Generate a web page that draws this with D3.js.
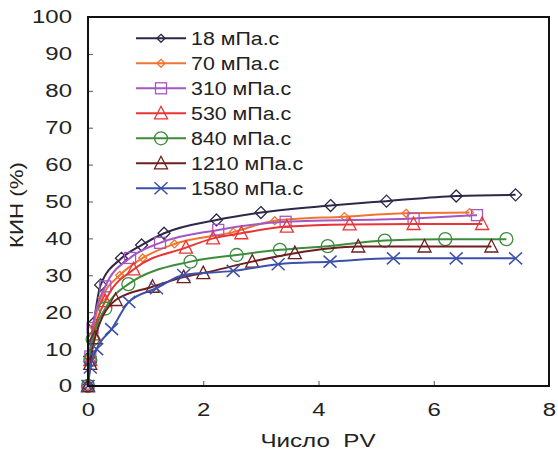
<!DOCTYPE html>
<html><head><meta charset="utf-8">
<script src="https://cdn.jsdelivr.net/npm/d3@7"></script>
<style>body{margin:0;background:#fff}svg{display:block}text{font-family:"Liberation Sans",Arial,sans-serif;fill:#222}</style>
</head><body>
<svg id="c" width="558" height="461"></svg>
<script>
const seriesNames = ["18 мПа.с","70 мПа.с","310 мПа.с","530 мПа.с","840 мПа.с","1210 мПа.с","1580 мПа.с"];
const seriesColors = ["#2e2848","#f07432","#a656c4","#ea3434","#3c8c3c","#6e1e1e","#3c50aa"];
const seriesMarkers = ["diamond","diamondSmall","square","triangle","circle","triangle","cross"];
const s18   = [[0,0],[0.03,8],[0.1,17],[0.22,27.4],[0.58,34.6],[0.93,38.2],[1.32,41.4],[2.23,45],[3.0,47],[4.21,48.9],[5.18,50.1],[6.39,51.5],[7.42,51.8]];
const s70   = [[0,0],[0.04,8],[0.1,16],[0.25,24],[0.55,30],[0.95,34.7],[1.5,38.5],[2.52,41.7],[3.24,44.8],[4.45,45.9],[5.52,46.8],[6.62,47]];
const s310  = [[0,0],[0.04,8],[0.08,15.7],[0.3,27],[0.73,34.7],[1.25,38.8],[2.26,42.3],[3.43,44.5],[5.65,45.4],[6.75,46.3]];
const s530  = [[0,0],[0.04,7],[0.1,14],[0.3,23],[0.79,31.6],[1.7,37.5],[2.17,40],[2.66,41.4],[3.45,43.2],[4.54,43.8],[5.65,43.9],[6.84,43.9]];
const s840  = [[0,0],[0.04,7],[0.08,12.7],[0.3,21],[0.7,27.6],[1.78,33.7],[2.58,35.5],[3.33,36.9],[4.16,37.9],[5.15,39.4],[6.2,39.8],[7.26,39.8]];
const s1210 = [[0,0],[0.04,6],[0.12,13],[0.48,23.3],[1.12,26.9],[1.66,29.5],[2.0,30.6],[2.85,33.7],[3.59,36],[4.69,37.8],[5.84,37.8],[7.0,37.8]];
const s1580 = [[0,0],[0.04,5],[0.15,10],[0.41,15.4],[0.71,22.8],[1.19,26.5],[1.66,30.1],[2.52,31.2],[3.3,33],[4.2,33.7],[5.3,34.6],[6.39,34.6],[7.42,34.6]];
const seriesData = [s18,s70,s310,s530,s840,s1210,s1580];
const xTicks = [0,2,4,6,8];
const yTicks = [0,10,20,30,40,50,60,70,80,90,100];

const svg = d3.select("#c");
const L=88,R=549,T=17,B=386;
const x = d3.scaleLinear().domain([0,8]).range([L,R]);
const y = d3.scaleLinear().domain([0,100]).range([B,T]);

function marker(g, type, color){
  if(type==="diamond"||type==="diamondSmall"){
    const r = type==="diamond"?6:4;
    g.append("path").attr("d",`M0,${-r}L${r},0L0,${r}L${-r},0Z`).attr("fill","none").attr("stroke",color).attr("stroke-width",1.3);
  } else if(type==="square"){
    g.append("rect").attr("x",-5.5).attr("y",-5.5).attr("width",11).attr("height",11).attr("fill","none").attr("stroke",color).attr("stroke-width",1.3);
  } else if(type==="triangle"){
    g.append("path").attr("d","M0,-7L6.5,5.5L-6.5,5.5Z").attr("fill","none").attr("stroke",color).attr("stroke-width",1.3);
  } else if(type==="circle"){
    g.append("circle").attr("r",6.5).attr("fill","none").attr("stroke",color).attr("stroke-width",1.3);
  } else if(type==="cross"){
    g.append("path").attr("d","M-6.5,-6L6.5,6M-6.5,6L6.5,-6").attr("fill","none").attr("stroke",color).attr("stroke-width",1.5);
  }
}

const line = d3.line().x(d=>x(d[0])).y(d=>y(d[1])).curve(d3.curveMonotoneX);
const plot = svg.append("g");
seriesData.forEach((data,i)=>{
  plot.append("path").attr("d",line(data)).attr("fill","none").attr("stroke",seriesColors[i]).attr("stroke-width",2);
  data.forEach(d=>{
    const g = plot.append("g").attr("transform",`translate(${x(d[0])},${y(d[1])})`);
    marker(g, seriesMarkers[i], seriesColors[i]);
  });
});

// axes
const TS = 18.6, SX = 1.29;
const ya = svg.append("g").attr("transform",`translate(${L},0)`).call(d3.axisLeft(y).tickValues(yTicks).tickSize(-5).tickPadding(15));
const xa = svg.append("g").attr("transform",`translate(0,${B})`).call(d3.axisBottom(x).tickValues(xTicks).tickSize(-5).tickPadding(17));
[ya,xa].forEach(a=>{a.select(".domain").remove();a.selectAll("line").attr("stroke","#555");});
ya.selectAll("text").each(function(){
  d3.select(this).attr("x",0).attr("transform",`translate(-16,0) scale(${SX},1)`).attr("font-size",TS).attr("fill","#222").attr("font-family",'"Liberation Sans",Arial,sans-serif');
});
xa.selectAll("text").each(function(){
  const yy = +d3.select(this).attr("y");
  d3.select(this).attr("y",0).attr("transform",`translate(0,${yy}) scale(${SX},1)`).attr("font-size",TS).attr("fill","#222").attr("font-family",'"Liberation Sans",Arial,sans-serif');
});
svg.append("rect").attr("x",L).attr("y",T).attr("width",R-L).attr("height",B-T).attr("fill","none").attr("stroke","#111").attr("stroke-width",2);

svg.append("text").attr("transform","translate(318,447) scale(1.3,1)").attr("text-anchor","middle").attr("font-size",18.6).attr("xml:space","preserve").style("white-space","pre").text("Число  PV");
svg.append("text").attr("transform","translate(23,205) rotate(-90) scale(1.2,1)").attr("text-anchor","middle").attr("font-size",18.6).text("КИН (%)");

// legend
const leg = svg.append("g");
seriesNames.forEach((n,i)=>{
  const yy = 38.3 + i*25;
  leg.append("line").attr("x1",136).attr("x2",186).attr("y1",yy).attr("y2",yy).attr("stroke",seriesColors[i]).attr("stroke-width",2);
  const g = leg.append("g").attr("transform",`translate(161,${yy})`);
  marker(g, seriesMarkers[i]==="diamond"?"diamondSmall":seriesMarkers[i], seriesColors[i]);
  leg.append("text").attr("transform",`translate(191,${yy}) scale(1.15,1)`).attr("dy","0.35em").attr("font-size",18.6).text(n);
});
</script>
</body></html>
